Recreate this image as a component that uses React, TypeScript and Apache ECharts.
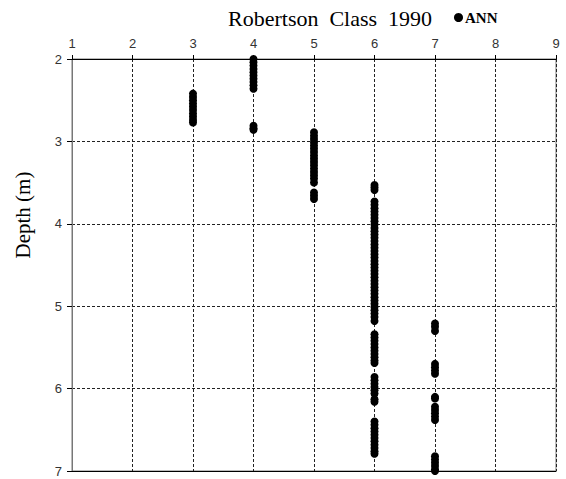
import React, { useEffect, useRef } from "react";
import * as echarts from "echarts";

const xTicks = [1, 2, 3, 4, 5, 6, 7, 8, 9];
const depthClass3 = [2.42, 2.46, 2.5, 2.54, 2.58, 2.62, 2.66, 2.7, 2.74, 2.77];
const depthClass4 = [2.0, 2.04, 2.08, 2.12, 2.16, 2.2, 2.24, 2.28, 2.32, 2.36, 2.81, 2.84, 2.86];
const depthClass5 = [
  2.89, 2.93, 2.97, 3.01, 3.05, 3.09, 3.13, 3.17, 3.21, 3.25, 3.29, 3.33, 3.37, 3.41, 3.45, 3.5,
  3.62, 3.66, 3.7,
];
const depthClass6 = [
  3.53, 3.56, 3.59,
  3.73, 3.77, 3.81, 3.85, 3.89, 3.93, 3.97, 4.01, 4.05, 4.09, 4.13, 4.17, 4.21, 4.25, 4.29, 4.33,
  4.37, 4.41, 4.45, 4.49, 4.53, 4.57, 4.61, 4.65, 4.69, 4.73, 4.77, 4.81, 4.85, 4.89, 4.93, 4.97,
  5.01, 5.05, 5.09, 5.13, 5.18,
  5.34, 5.38, 5.42, 5.46, 5.5, 5.54, 5.58, 5.62, 5.66, 5.69,
  5.86, 5.9, 5.94, 5.98, 6.02, 6.06, 6.13, 6.16,
  6.4, 6.44, 6.48, 6.52, 6.56, 6.6, 6.64, 6.68, 6.72, 6.76, 6.79,
];
const depthClass7 = [
  5.21, 5.25, 5.3,
  5.7, 5.74, 5.78, 5.82,
  6.1, 6.12,
  6.22, 6.26, 6.3, 6.34, 6.38,
  6.82, 6.86, 6.9, 6.94, 6.98, 7.0,
];

const classGroups: [number, number[]][] = [
  [3, depthClass3],
  [4, depthClass4],
  [5, depthClass5],
  [6, depthClass6],
  [7, depthClass7],
];

export default function App() {
  const ref = useRef<HTMLDivElement>(null);
  useEffect(() => {
    if (!ref.current) return;
    const chart = echarts.init(ref.current, null, { renderer: "svg" });
    const points: number[][] = [];
    classGroups.forEach(([cls, depths]) => depths.forEach((d) => points.push([cls, d])));
    const dashed = { color: "#222", type: [3, 2], width: 1 };
    chart.setOption({
      animation: false,
      backgroundColor: "#ffffff",
      title: {
        text: "Robertson  Class  1990",
        left: 223,
        top: 2,
        textStyle: {
          fontFamily: "Liberation Serif",
          fontWeight: "normal",
          fontSize: 22,
          color: "#000",
        },
      },
      legend: {
        left: 449,
        top: 5,
        itemWidth: 9,
        itemHeight: 9,
        itemGap: 4,
        icon: "circle",
        textStyle: {
          fontFamily: "Liberation Serif",
          fontWeight: "bold",
          fontSize: 15,
          color: "#000",
          padding: [0, 0, 0, -3],
        },
        data: ["ANN"],
      },
      graphic: [
        {
          type: "text",
          x: 23,
          y: 215,
          rotation: Math.PI / 2,
          style: {
            text: "Depth (m)",
            fontFamily: "Liberation Serif",
            fontSize: 21,
            fill: "#000",
            align: "center",
            verticalAlign: "middle",
          },
        },
      ],
      grid: {
        left: 72,
        right: 10,
        top: 59,
        bottom: 8,
        show: true,
        borderColor: "#777",
        borderWidth: 1,
      },
      xAxis: [
        {
          type: "value",
          position: "top",
          min: 1,
          max: 9,
          interval: 1,
          axisLine: { show: true, lineStyle: { color: "#000" } },
          axisTick: { show: true, length: 4, lineStyle: { color: "#000" } },
          axisLabel: {
            fontFamily: "Liberation Sans",
            fontSize: 13,
            color: "#333",
            margin: 9,
            formatter: (v: number) => (xTicks.includes(v) ? String(v) : ""),
          },
          splitLine: { show: true, lineStyle: dashed },
        },
        {
          type: "value",
          position: "bottom",
          min: 1,
          max: 9,
          interval: 1,
          axisLine: { show: true, lineStyle: { color: "#000" } },
          axisTick: { show: false },
          axisLabel: { show: false },
          splitLine: { show: false },
        },
      ],
      yAxis: {
        type: "value",
        inverse: true,
        min: 2,
        max: 7,
        interval: 1,
        axisLine: { show: true, lineStyle: { color: "#777" } },
        axisTick: { show: true, length: 5, lineStyle: { color: "#000" } },
        axisLabel: {
          fontFamily: "Liberation Sans",
          fontSize: 13,
          color: "#333",
          margin: 10,
        },
        splitLine: { show: true, lineStyle: dashed },
      },
      series: [
        {
          name: "ANN",
          type: "scatter",
          symbol: "circle",
          symbolSize: 8,
          itemStyle: { color: "#000", opacity: 1 },
          data: points,
          clip: false,
        },
      ],
    });
    return () => chart.dispose();
  }, []);
  return <div ref={ref} style={{ width: 566, height: 479, position: "absolute", left: 0, top: 0 }} />;
}
